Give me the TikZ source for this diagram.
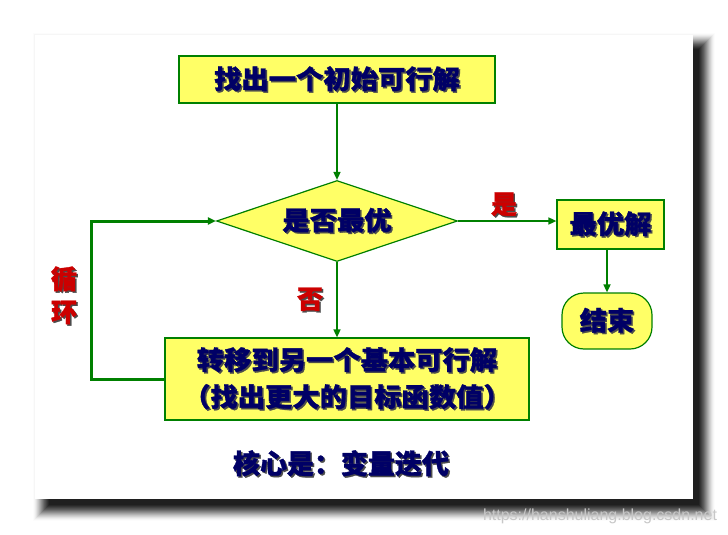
\documentclass[tikz,border=0pt]{standalone}
\usepackage{fontspec}
\setmainfont{Noto Sans CJK SC}[BoldFeatures={FakeBold=1.2}]
\newfontfamily\cjkbox{Noto Sans CJK SC}[FakeStretch=1.05, BoldFeatures={FakeBold=1.2}]
\newfontfamily\wmfont{Liberation Sans}
\usetikzlibrary{shapes.geometric,arrows.meta}
\definecolor{boxfill}{HTML}{FFFF66}
\definecolor{boxline}{HTML}{008000}
\definecolor{navytxt}{HTML}{000066}
\definecolor{redtxt}{HTML}{CC0000}
\newcommand\shtxt[1]{\leavevmode\rlap{\kern1.5pt\raisebox{-1.5pt}{\color{black!70}#1}}#1}
\tikzset{
  flowarrow/.style={draw=boxline, line width=1.6pt, -{Triangle[length=8pt,width=7pt]}},
  loopline/.style={flowarrow, line width=3pt},
  stepbox/.style={draw=boxline, fill=boxfill, line width=1.2pt, inner sep=0pt, align=center,
    font=\cjkbox\bfseries\fontsize{26}{37}\selectfont, text=navytxt},
  decide/.style={stepbox, diamond, aspect=3},
  endbox/.style={stepbox, rounded corners=22pt},
  yesno/.style={font=\bfseries\fontsize{26}{33}\selectfont, text=redtxt, inner sep=0pt, align=center},
  keynote/.style={font=\bfseries\fontsize{27}{30}\selectfont, text=navytxt, inner sep=0pt}
}

\begin{document}
\begin{tikzpicture}[x=1pt, y=-1pt]
  \useasboundingbox (0,0) rectangle (728,535);
  \fill[white] (0,0) rectangle (728,535);
  % card with its shadow
  \foreach \k in {0,...,16}
    \fill[black, opacity={0.2*(1-\k/17)}] (49-\k,49-\k) rectangle (699+\k,505+\k);
  \fill[white] (35,35) rectangle (693,499);

  \node[stepbox, minimum width=316pt, minimum height=47pt] (init) at (337,79.5) {\shtxt{找出一个初始可行解}};
  \node[decide, minimum width=241pt, minimum height=81pt] (opt) at (337,221) {\shtxt{是否最优}};
  \node[stepbox, minimum width=107pt, minimum height=49pt] (best) at (610.5,224.5) {\shtxt{最优解}};
  \node[endbox, minimum width=90pt, minimum height=56pt] (stop) at (607,321) {\shtxt{结束}};
  \node[stepbox, minimum width=364pt, minimum height=82pt] (move) at (347,379)
    {\shtxt{转移到另一个基本可行解}\\\shtxt{（找出更大的目标函数值）}};

  \node[yesno] (yes) at (504,205) {\shtxt{是}};
  \node[yesno] (no) at (310,300) {\shtxt{否}};
  \node[yesno] (loop) at (64,296) {\shtxt{循}\\\shtxt{环}};
  \node[keynote] (core) at (341,464) {\shtxt{核心是：变量迭代}};
  \node[font=\wmfont\fontsize{16}{18}\selectfont, text=black!22, inner sep=0pt] (mark) at (600,516) {https://hanshuliang.blog.csdn.net};

  \coordinate (lowturn) at (91,379);
  \draw[flowarrow] (init.south) -- (opt.north);
  \draw[flowarrow] (opt.east) -- (opt.east -| best.west);
  \draw[flowarrow] (stop.north |- best.south) -- (stop.north);
  \draw[flowarrow] (opt.south) -- (opt.south |- move.north);
  \draw[loopline] (move.west) -- (lowturn) |- (opt.west);
\end{tikzpicture}
\end{document}
